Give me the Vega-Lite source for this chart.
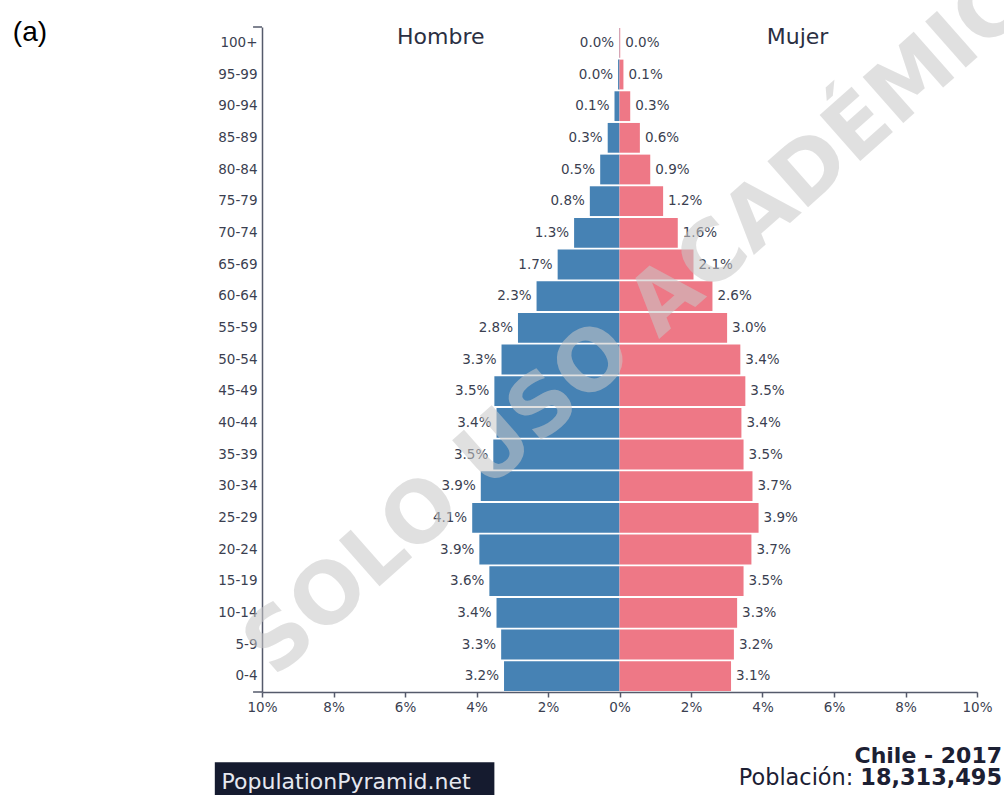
{
  "$schema": "https://vega.github.io/schema/vega-lite/v6.json",
  "width": 715,
  "height": 665,
  "autosize": {"type": "none"},
  "padding": {"left": 262, "top": 27, "right": 27, "bottom": 103},
  "background": "white",
  "config": {
    "view": {"stroke": null},
    "font": "DejaVu Sans",
    "axis": {
      "labelFont": "DejaVu Sans",
      "labelFontSize": 13.5,
      "labelColor": "#3b3f51",
      "domainColor": "#555a6b",
      "domainWidth": 1.5,
      "tickColor": "#555a6b",
      "tickWidth": 1.5,
      "grid": false,
      "title": null
    }
  },
  "layer": [
    {
      "data": {
        "values": [
          {"age": "100+", "sex": "Hombre", "value": -0.01, "label": "0.0%"},
          {"age": "95-99", "sex": "Hombre", "value": -0.04, "label": "0.0%"},
          {"age": "90-94", "sex": "Hombre", "value": -0.14, "label": "0.1%"},
          {"age": "85-89", "sex": "Hombre", "value": -0.33, "label": "0.3%"},
          {"age": "80-84", "sex": "Hombre", "value": -0.54, "label": "0.5%"},
          {"age": "75-79", "sex": "Hombre", "value": -0.83, "label": "0.8%"},
          {"age": "70-74", "sex": "Hombre", "value": -1.27, "label": "1.3%"},
          {"age": "65-69", "sex": "Hombre", "value": -1.73, "label": "1.7%"},
          {"age": "60-64", "sex": "Hombre", "value": -2.32, "label": "2.3%"},
          {"age": "55-59", "sex": "Hombre", "value": -2.84, "label": "2.8%"},
          {"age": "50-54", "sex": "Hombre", "value": -3.30, "label": "3.3%"},
          {"age": "45-49", "sex": "Hombre", "value": -3.50, "label": "3.5%"},
          {"age": "40-44", "sex": "Hombre", "value": -3.44, "label": "3.4%"},
          {"age": "35-39", "sex": "Hombre", "value": -3.53, "label": "3.5%"},
          {"age": "30-34", "sex": "Hombre", "value": -3.88, "label": "3.9%"},
          {"age": "25-29", "sex": "Hombre", "value": -4.12, "label": "4.1%"},
          {"age": "20-24", "sex": "Hombre", "value": -3.92, "label": "3.9%"},
          {"age": "15-19", "sex": "Hombre", "value": -3.64, "label": "3.6%"},
          {"age": "10-14", "sex": "Hombre", "value": -3.44, "label": "3.4%"},
          {"age": "5-9", "sex": "Hombre", "value": -3.31, "label": "3.3%"},
          {"age": "0-4", "sex": "Hombre", "value": -3.23, "label": "3.2%"},
          {"age": "100+", "sex": "Mujer", "value": 0.02, "label": "0.0%"},
          {"age": "95-99", "sex": "Mujer", "value": 0.11, "label": "0.1%"},
          {"age": "90-94", "sex": "Mujer", "value": 0.30, "label": "0.3%"},
          {"age": "85-89", "sex": "Mujer", "value": 0.57, "label": "0.6%"},
          {"age": "80-84", "sex": "Mujer", "value": 0.86, "label": "0.9%"},
          {"age": "75-79", "sex": "Mujer", "value": 1.22, "label": "1.2%"},
          {"age": "70-74", "sex": "Mujer", "value": 1.63, "label": "1.6%"},
          {"age": "65-69", "sex": "Mujer", "value": 2.07, "label": "2.1%"},
          {"age": "60-64", "sex": "Mujer", "value": 2.60, "label": "2.6%"},
          {"age": "55-59", "sex": "Mujer", "value": 3.01, "label": "3.0%"},
          {"age": "50-54", "sex": "Mujer", "value": 3.38, "label": "3.4%"},
          {"age": "45-49", "sex": "Mujer", "value": 3.52, "label": "3.5%"},
          {"age": "40-44", "sex": "Mujer", "value": 3.41, "label": "3.4%"},
          {"age": "35-39", "sex": "Mujer", "value": 3.47, "label": "3.5%"},
          {"age": "30-34", "sex": "Mujer", "value": 3.72, "label": "3.7%"},
          {"age": "25-29", "sex": "Mujer", "value": 3.89, "label": "3.9%"},
          {"age": "20-24", "sex": "Mujer", "value": 3.69, "label": "3.7%"},
          {"age": "15-19", "sex": "Mujer", "value": 3.47, "label": "3.5%"},
          {"age": "10-14", "sex": "Mujer", "value": 3.29, "label": "3.3%"},
          {"age": "5-9", "sex": "Mujer", "value": 3.20, "label": "3.2%"},
          {"age": "0-4", "sex": "Mujer", "value": 3.12, "label": "3.1%"}
        ]
      },
      "encoding": {
        "y": {
          "field": "age",
          "type": "nominal",
          "scale": {
            "domain": ["100+", "95-99", "90-94", "85-89", "80-84", "75-79", "70-74", "65-69", "60-64", "55-59", "50-54", "45-49", "40-44", "35-39", "30-34", "25-29", "20-24", "15-19", "10-14", "5-9", "0-4"],
            "paddingInner": 0.06,
            "paddingOuter": 0.03
          },
          "axis": {"ticks": false, "labelPadding": 5}
        },
        "x": {
          "field": "value",
          "type": "quantitative",
          "scale": {"domain": [-10, 10], "nice": false},
          "axis": {
            "orient": "bottom",
            "values": [-10, -8, -6, -4, -2, 0, 2, 4, 6, 8, 10],
            "labelExpr": "abs(datum.value) + '%'",
            "labelFlush": false,
            "labelOverlap": false,
            "tickSize": 5,
            "labelPadding": 3
          }
        }
      },
      "layer": [
        {
          "mark": {"type": "bar"},
          "encoding": {
            "color": {
              "field": "sex",
              "type": "nominal",
              "scale": {"domain": ["Hombre", "Mujer"], "range": ["#4682b4", "#ee7886"]},
              "legend": null
            }
          }
        },
        {
          "transform": [{"filter": "datum.sex == 'Hombre'"}],
          "mark": {"type": "text", "align": "right", "baseline": "middle", "dx": -5, "font": "DejaVu Sans", "fontSize": 13.5, "color": "#3b3f51"},
          "encoding": {"text": {"field": "label"}}
        },
        {
          "transform": [{"filter": "datum.sex == 'Mujer'"}],
          "mark": {"type": "text", "align": "left", "baseline": "middle", "dx": 5, "font": "DejaVu Sans", "fontSize": 13.5, "color": "#3b3f51"},
          "encoding": {"text": {"field": "label"}}
        }
      ]
    },
    {
      "data": {"values": [{}]},
      "layer": [
        {
          "mark": {"type": "rule", "stroke": "#555a6b", "strokeWidth": 1.5},
          "encoding": {
            "x": {"datum": -10.25, "type": "quantitative", "scale": {"domain": [-10, 10], "nice": false}, "axis": null},
            "x2": {"datum": -10},
            "y": {"datum": 21, "type": "quantitative", "scale": {"domain": [0, 21], "nice": false, "zero": false}, "axis": null}
          }
        },
        {
          "mark": {"type": "rule", "stroke": "#555a6b", "strokeWidth": 1.5},
          "encoding": {
            "x": {"datum": -10.25, "type": "quantitative", "scale": {"domain": [-10, 10], "nice": false}, "axis": null},
            "x2": {"datum": -10},
            "y": {"datum": 0, "type": "quantitative", "scale": {"domain": [0, 21], "nice": false, "zero": false}, "axis": null}
          }
        },
        {
          "mark": {"type": "text", "text": "Hombre", "align": "center", "baseline": "alphabetic", "font": "DejaVu Sans", "fontSize": 22, "color": "#2b2f42"},
          "encoding": {
            "x": {"datum": -5, "type": "quantitative", "scale": {"domain": [-10, 10], "nice": false}, "axis": null},
            "y": {"datum": 20.45, "type": "quantitative", "scale": {"domain": [0, 21], "nice": false, "zero": false}, "axis": null}
          }
        },
        {
          "mark": {"type": "text", "text": "Mujer", "align": "center", "baseline": "alphabetic", "font": "DejaVu Sans", "fontSize": 22, "color": "#2b2f42"},
          "encoding": {
            "x": {"datum": 4.98, "type": "quantitative", "scale": {"domain": [-10, 10], "nice": false}, "axis": null},
            "y": {"datum": 20.45, "type": "quantitative", "scale": {"domain": [0, 21], "nice": false, "zero": false}, "axis": null}
          }
        },
        {
          "mark": {"type": "text", "text": "(a)", "align": "left", "baseline": "middle", "font": "Liberation Sans", "fontSize": 28, "color": "#000000"},
          "encoding": {
            "x": {"datum": -16.97, "type": "quantitative", "scale": {"domain": [-10, 10], "nice": false}, "axis": null},
            "y": {"datum": 20.81, "type": "quantitative", "scale": {"domain": [0, 21], "nice": false, "zero": false}, "axis": null}
          }
        },
        {
          "mark": {"type": "text", "text": "Chile - 2017", "align": "right", "baseline": "alphabetic", "font": "DejaVu Sans", "fontWeight": "bold", "fontSize": 22, "color": "#1c2033"},
          "encoding": {
            "x": {"datum": 10.7, "type": "quantitative", "scale": {"domain": [-10, 10], "nice": false}, "axis": null},
            "y": {"datum": -2.233, "type": "quantitative", "scale": {"domain": [0, 21], "nice": false, "zero": false}, "axis": null}
          }
        },
        {
          "mark": {"type": "text", "text": "Población:", "align": "right", "baseline": "alphabetic", "font": "DejaVu Sans", "fontSize": 22.4, "color": "#1c2033"},
          "encoding": {
            "x": {"datum": 6.54, "type": "quantitative", "scale": {"domain": [-10, 10], "nice": false}, "axis": null},
            "y": {"datum": -2.94, "type": "quantitative", "scale": {"domain": [0, 21], "nice": false, "zero": false}, "axis": null}
          }
        },
        {
          "mark": {"type": "text", "text": "18,313,495", "align": "right", "baseline": "alphabetic", "font": "DejaVu Sans", "fontWeight": "bold", "fontSize": 22.4, "color": "#1c2033"},
          "encoding": {
            "x": {"datum": 10.7, "type": "quantitative", "scale": {"domain": [-10, 10], "nice": false}, "axis": null},
            "y": {"datum": -2.94, "type": "quantitative", "scale": {"domain": [0, 21], "nice": false, "zero": false}, "axis": null}
          }
        },
        {
          "mark": {"type": "rect", "color": "#151b2f"},
          "encoding": {
            "x": {"datum": -11.32, "type": "quantitative", "scale": {"domain": [-10, 10], "nice": false}, "axis": null},
            "x2": {"datum": -3.5},
            "y": {"datum": -2.22, "type": "quantitative", "scale": {"domain": [0, 21], "nice": false, "zero": false}, "axis": null},
            "y2": {"datum": -3.4}
          }
        },
        {
          "mark": {"type": "text", "text": "PopulationPyramid.net", "align": "left", "baseline": "alphabetic", "font": "DejaVu Sans", "fontSize": 22, "color": "#e6e8f0"},
          "encoding": {
            "x": {"datum": -11.13, "type": "quantitative", "scale": {"domain": [-10, 10], "nice": false}, "axis": null},
            "y": {"datum": -3.06, "type": "quantitative", "scale": {"domain": [0, 21], "nice": false, "zero": false}, "axis": null}
          }
        },
        {
          "mark": {"type": "text", "text": "SOLO USO ACADÉMICO", "align": "center", "baseline": "middle", "angle": -41.5, "font": "DejaVu Sans", "fontWeight": "bold", "fontSize": 84, "color": "#c8c8c8", "opacity": 0.55},
          "encoding": {
            "x": {"datum": 1.2, "type": "quantitative", "scale": {"domain": [-10, 10], "nice": false}, "axis": null},
            "y": {"datum": 12.3, "type": "quantitative", "scale": {"domain": [0, 21], "nice": false, "zero": false}, "axis": null}
          }
        }
      ]
    }
  ],
  "resolve": {"scale": {"y": "independent"}, "axis": {"x": "independent", "y": "independent"}}
}
